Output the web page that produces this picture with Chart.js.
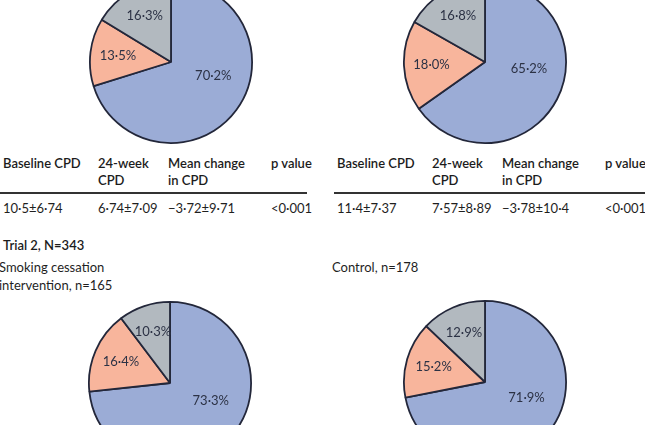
<!DOCTYPE html>
<html>
<head>
<meta charset="utf-8">
<script src="https://cdn.jsdelivr.net/npm/chart.js@4/dist/chart.umd.min.js"></script>
<style>
  html, body { margin:0; padding:0; background:#fff; }
  body { width:645px; height:425px; position:relative; overflow:hidden; font-family: Lato, "Open Sans", sans-serif; color:#1f1f1f; }
  .pie { position:absolute; width:166px; height:166px; }
  .txt { position:absolute; white-space:nowrap; font-size:13px; line-height:16px; }
  .hdr { font-weight:600; color:#1c1c1c; }
  .rule { position:absolute; height:1.5px; background:#333; }
</style>
</head>
<body>
<div class="pie" style="left:88px; top:-21px;"><canvas id="c1"></canvas></div>
<div class="pie" style="left:402px; top:-21px;"><canvas id="c2"></canvas></div>
<div class="pie" style="left:87px; top:300px;"><canvas id="c3"></canvas></div>
<div class="pie" style="left:402px; top:299px;"><canvas id="c4"></canvas></div>
<div id="tables"></div>
<script>
// ---- Data ----
const sliceCategories = ['Category A', 'Category B', 'Category C'];
const trial1InterventionPct = [70.2, 13.5, 16.3];
const trial1ControlPct = [65.2, 18.0, 16.8];
const trial2InterventionPct = [73.3, 16.4, 10.3];
const trial2ControlPct = [71.9, 15.2, 12.9];

const tableHeaders = [['Baseline CPD'], ['24-week', 'CPD'], ['Mean change', 'in CPD'], ['p value']];
const trial1InterventionRow = ['10.5±6.74', '6.74±7.09', '−3.72±9.71', '<0.001'];
const trial1ControlRow = ['11.4±7.37', '7.57±8.89', '−3.78±10.4', '<0.001'];

const trial2Title = 'Trial 2, N=343';
const trial2InterventionTitle = ['Smoking cessation', 'intervention, n=165'];
const trial2ControlTitle = ['Control, n=178'];

// ---- Styles ----
const sliceColors = ['#9bacd6', '#f8b59c', '#b2b9bf'];
const dot = s => String(s).replace(/\./g, '·');

const labelPlugin = {
  id: 'sliceLabels',
  afterDatasetsDraw(chart) {
    const ctx = chart.ctx;
    const meta = chart.getDatasetMeta(0);
    const data = chart.data.datasets[0].data;
    const maxIdx = data.indexOf(Math.max(...data));
    ctx.save();
    ctx.font = '13px Lato, "Open Sans", sans-serif';
    ctx.fillStyle = '#2c3245';
    ctx.textAlign = 'center';
    ctx.textBaseline = 'middle';
    meta.data.forEach((arc, i) => {
      const p = arc.getProps(['x', 'y', 'startAngle', 'endAngle', 'outerRadius'], true);
      let mid = (p.startAngle + p.endAngle) / 2;
      let dist = 0.66 * p.outerRadius;
      if (i === maxIdx) {
        mid -= 18 * Math.PI / 180;
        dist = 0.55 * p.outerRadius;
      } else if (i === data.length - 1) {
        const lim = 1.5 * Math.PI - 18 * Math.PI / 180;
        if (mid > lim) { mid = lim; dist = 0.76 * p.outerRadius; }
      }
      ctx.fillText(dot(data[i].toFixed(1)) + '%', p.x + Math.cos(mid) * dist, p.y + Math.sin(mid) * dist);
    });
    ctx.restore();
  }
};

function makePie(id, values) {
  new Chart(document.getElementById(id), {
    type: 'pie',
    data: {
      labels: sliceCategories,
      datasets: [{
        data: values,
        backgroundColor: sliceColors,
        borderColor: '#23273a',
        borderWidth: 1.8
      }]
    },
    options: {
      responsive: true,
      maintainAspectRatio: false,
      animation: false,
      layout: { padding: 1 },
      plugins: { legend: { display: false }, tooltip: { enabled: false } }
    },
    plugins: [labelPlugin]
  });
}

makePie('c1', trial1InterventionPct);
makePie('c2', trial1ControlPct);
makePie('c3', trial2InterventionPct);
makePie('c4', trial2ControlPct);

// ---- Text / tables ----
const host = document.getElementById('tables');
function addText(str, x, y, cls) {
  const d = document.createElement('div');
  d.className = 'txt ' + (cls || '');
  d.style.left = x + 'px';
  d.style.top = y + 'px';
  d.textContent = str;
  host.appendChild(d);
}
function addRule(x, y, w) {
  const d = document.createElement('div');
  d.className = 'rule';
  d.style.left = x + 'px'; d.style.top = y + 'px'; d.style.width = w + 'px';
  host.appendChild(d);
}
function addTable(x0, colX, row, ruleW) {
  tableHeaders.forEach((lines, c) => {
    lines.forEach((ln, k) => addText(ln, x0 + colX[c], 155 + k * 17, 'hdr'));
  });
  addRule(x0 - 3, 192, ruleW);
  row.forEach((v, c) => addText(dot(v), x0 + colX[c], 200, ''));
}
addTable(3, [0, 95, 165, 268], trial1InterventionRow, 307);
addTable(337, [0, 95, 165, 268], trial1ControlRow, 311);

addText(trial2Title, 3, 237, 'hdr');
trial2InterventionTitle.forEach((ln, k) => addText(ln, -1, 259 + k * 18, ''));
trial2ControlTitle.forEach((ln, k) => addText(ln, 332, 259 + k * 18, ''));
</script>
</body>
</html>
